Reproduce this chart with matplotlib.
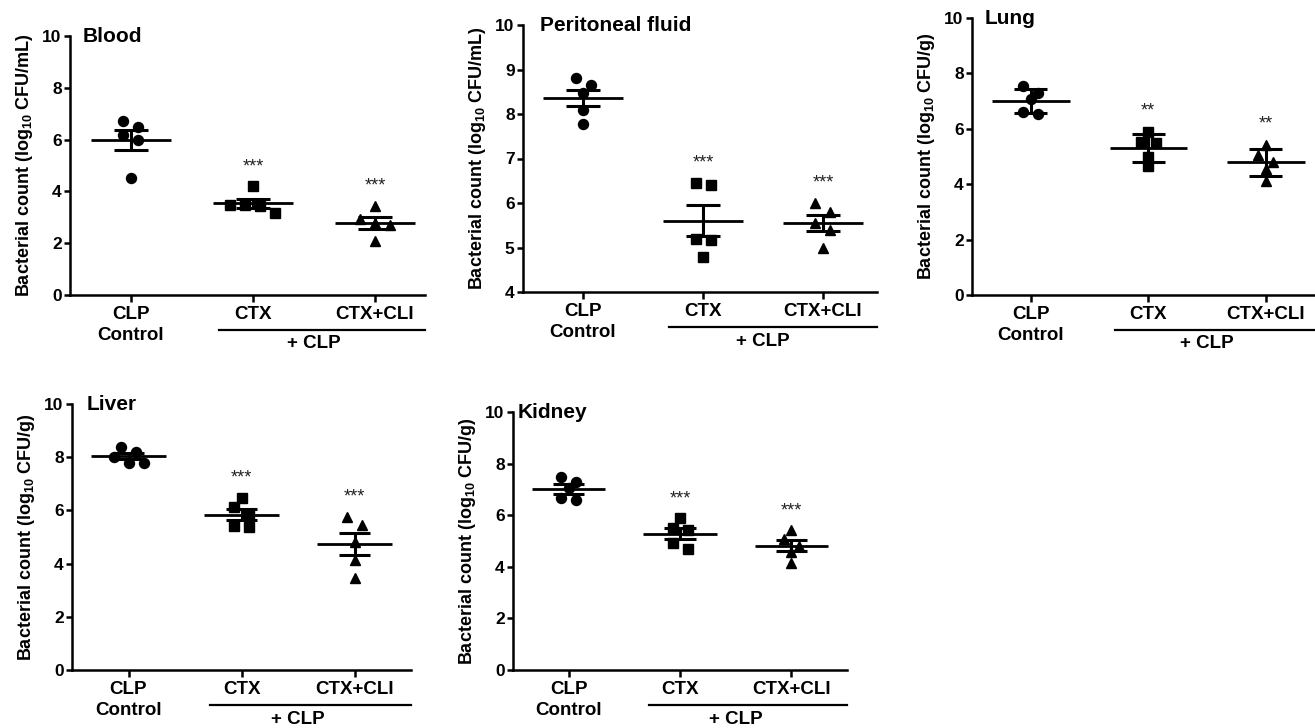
import numpy as np
import matplotlib
matplotlib.use("Agg")
import matplotlib.pyplot as plt
from matplotlib.transforms import blended_transform_factory, ScaledTranslation

plt.rcParams['font.family'] = ['Liberation Sans', 'DejaVu Sans']
plt.rcParams['font.weight'] = 'bold'
plt.rcParams['mathtext.fontset'] = 'custom'
plt.rcParams['mathtext.rm'] = 'Liberation Sans:bold'
plt.rcParams['mathtext.it'] = 'Liberation Sans:bold'
plt.rcParams['mathtext.bf'] = 'Liberation Sans:bold'

# log10 CFU values, 5 animals per group
groups = ["CLP\nControl", "CTX", "CTX+CLI"]

blood_ctrl = [6.73, 6.48, 6.17, 5.99, 4.52]
blood_ctx = [4.19, 3.48, 3.48, 3.42, 3.16]
blood_cli = [3.44, 2.93, 2.78, 2.71, 2.07]

perit_ctrl = [8.81, 8.65, 8.48, 8.08, 7.78]
perit_ctx = [6.46, 6.40, 5.18, 5.16, 4.79]
perit_cli = [6.00, 5.80, 5.55, 5.40, 5.00]

lung_ctrl = [7.55, 7.29, 7.07, 6.61, 6.54]
lung_ctx = [5.90, 5.51, 5.48, 4.98, 4.64]
lung_cli = [5.42, 5.04, 4.80, 4.54, 4.13]

liver_ctrl = [8.38, 8.18, 8.00, 7.80, 7.80]
liver_ctx = [6.45, 6.11, 5.83, 5.40, 5.36]
liver_cli = [5.77, 5.46, 4.83, 4.14, 3.45]

kidney_ctrl = [7.50, 7.28, 7.05, 6.65, 6.60]
kidney_ctx = [5.89, 5.50, 5.43, 4.92, 4.68]
kidney_cli = [5.43, 5.08, 4.82, 4.58, 4.15]

stars_3 = ["", "***", "***"]
stars_2 = ["", "**", "**"]

W, H = 1315, 728
fig = plt.figure(figsize=(W / 100, H / 100), dpi=100)

# title, data, stars, error type, ylim, yticks, unit, box (left, right, top, bottom px), xlim right, title offset px
panels = [
    ("Blood", [blood_ctrl, blood_ctx, blood_cli], stars_3, "sem", (0, 10), np.arange(0, 11, 2), "mL",
     (70, 425, 36, 295), 2.41, 13),
    ("Peritoneal fluid", [perit_ctrl, perit_ctx, perit_cli], stars_3, "sem", (4, 10), np.arange(4, 11, 1), "mL",
     (523, 877, 25, 292), 2.45, 17),
    ("Lung", [lung_ctrl, lung_ctx, lung_cli], stars_2, "sd", (0, 10), np.arange(0, 11, 2), "g",
     (972, 1314, 18, 295), 2.41, 13),
    ("Liver", [liver_ctrl, liver_ctx, liver_cli], stars_3, "sem", (0, 10), np.arange(0, 11, 2), "g",
     (72, 411, 404, 670), 2.5, 15),
    ("Kidney", [kidney_ctrl, kidney_ctx, kidney_cli], stars_3, "sem", (0, 10), np.arange(0, 11, 2), "g",
     (513, 847, 412, 670), 2.5, 5),
]
markers = ["o", "s", "^"]
msizes = [7.2, 7, 7.8]


def swarm(vals, center, dx, dy):
    # spread points with close values side by side, like prism does
    vals = np.asarray(vals)
    order = np.argsort(vals)[::-1]
    rows = []
    for i in order:
        if rows and vals[rows[-1][0]] - vals[i] < dy:
            rows[-1].append(i)
        else:
            rows.append([i])
    xs = np.zeros(len(vals))
    for row in rows:
        n = len(row)
        for k, i in enumerate(row):
            xs[i] = center + (k - (n - 1) / 2) * dx
    return xs


for name, data, stars, err, ylim, yticks, unit, box, xr, toff in panels:
    l, r, t, b = box
    ax = fig.add_axes([l / W, (H - b) / H, (r - l) / W, (b - t) / H])
    xlim = (-0.5, xr)
    ax.set_xlim(xlim)
    ax.set_ylim(ylim)
    px_x = (r - l) / (xlim[1] - xlim[0])
    px_y = (b - t) / (ylim[1] - ylim[0])
    for i, vals in enumerate(data):
        vals = np.array(vals)
        m = vals.mean()
        e = vals.std(ddof=1)
        if err == "sem":
            e = e / np.sqrt(len(vals))
        xs = swarm(vals, i, 15 / px_x, 9 / px_y)
        ax.plot(xs, vals, ls="none", marker=markers[i], ms=msizes[i], color="black", zorder=3)
        ax.hlines(m, i - 0.33, i + 0.33, color="black", lw=2, zorder=4)
        ax.hlines([m - e, m + e], i - 0.14, i + 0.14, color="black", lw=2.2, zorder=4)
        ax.vlines(i, m - e, m + e, color="black", lw=2.2, zorder=4)
        if stars[i]:
            ax.text(i, vals.max() + 0.075 * (ylim[1] - ylim[0]), stars[i], ha="center", va="center",
                    fontsize=13, fontweight="normal", color="#222222")

    for s in ["top", "right"]:
        ax.spines[s].set_visible(False)
    for s in ["left", "bottom"]:
        ax.spines[s].set_linewidth(1.8)
    ax.set_yticks(yticks)
    ax.set_xticks(range(3))
    ax.set_xticklabels(groups, fontsize=13.5, fontweight="bold", linespacing=1.3)
    ax.tick_params(axis="y", labelsize=12.5, width=1.8, length=4.5, pad=1.5)
    ax.tick_params(axis="x", width=1.8, length=5, pad=3)
    for lab in ax.get_yticklabels():
        lab.set_fontweight("bold")
    ax.set_ylabel("Bacterial count (log$_{10}$ CFU/" + unit + ")", fontsize=13, fontweight="bold", labelpad=5)
    ax.text(toff / (r - l), 1.0, name, transform=ax.transAxes, ha="left", va="center",
            fontsize=15, fontweight="bold")

    # "+ CLP" bracket under the two treated groups
    trans = blended_transform_factory(ax.transData, ax.transAxes)
    ltrans = trans + ScaledTranslation(0, -35 / 100, fig.dpi_scale_trans)
    ax.plot([0.72, xr], [0, 0], transform=ltrans, color="black", lw=1.6, clip_on=False)
    ttrans = trans + ScaledTranslation(0, -49 / 100, fig.dpi_scale_trans)
    ax.text(1.5, 0, "+ CLP", transform=ttrans, ha="center", va="center", fontsize=13.5, fontweight="bold")

fig.savefig("out.png", dpi=100)
